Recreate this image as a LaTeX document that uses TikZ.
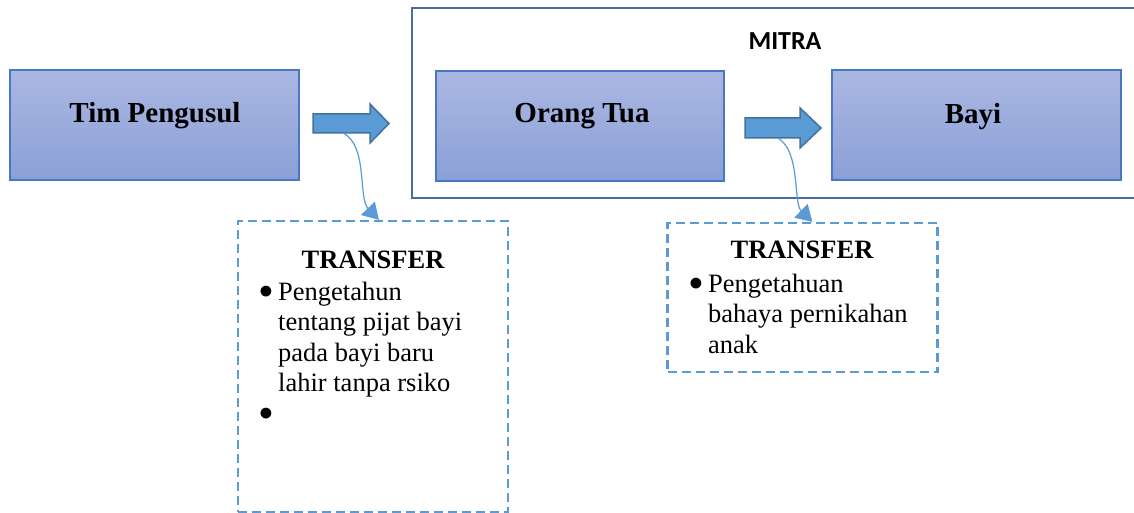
\documentclass[tikz,border=0pt]{standalone}
\usepackage{fontspec}
\setmainfont{Liberation Serif}
\newfontfamily\calibrifont{Carlito}
\usetikzlibrary{calc,arrows.meta}
\definecolor{boxtop}{HTML}{AAB7E1}
\definecolor{boxbot}{HTML}{8BA0D8}
\definecolor{boxline}{HTML}{4A76C6}
\definecolor{arrfill}{HTML}{5B9BD5}
\definecolor{arrline}{HTML}{41719C}
\definecolor{mitraline}{HTML}{4A6E99}
\definecolor{dashline}{HTML}{5B9BD5}
\newcommand{\bigbul}{\makebox[18pt][l]{\hspace{-1.5pt}\raisebox{-6.5pt}{\scalebox{1.7}{\textbullet}}}}
\begin{document}
\begin{tikzpicture}[x=1pt,y=-1pt,
  bluebox/.style={draw=boxline,line width=1.3pt,top color=boxtop,bottom color=boxbot,rectangle,inner sep=0pt},
  boxtext/.style={font=\fontsize{29}{32}\selectfont\bfseries,anchor=base,inner sep=0pt},
  blockarrow/.style={fill=arrfill,draw=arrline,line width=1.5pt,line join=miter},
  callout/.style={draw=dashline,line width=2.2pt,dash pattern=on 9pt off 5pt,rectangle,inner sep=0pt},
  calltitle/.style={font=\fontsize{26.5}{30.5}\selectfont\bfseries,anchor=base,inner sep=0pt},
  calltext/.style={font=\fontsize{26.5}{30.5}\selectfont,anchor=base west,inner sep=0pt,align=left},
  curvelink/.style={draw=dashline,line width=1.2pt,-{Triangle[length=16pt,width=19pt]}}
]
\useasboundingbox (0,0) rectangle (1134,513);
% MITRA frame (open to the right)
\draw[mitraline,line width=2.5pt] (1140,8) -- (412,8) -- (412,198) -- (1140,198);
\node[font=\calibrifont\fontsize{26}{28}\selectfont\bfseries,anchor=base,inner sep=0pt] (mitra) at (785,50) {MITRA};
% blue boxes
\path[bluebox] (10,70) rectangle (299,180);
\node[minimum width=289pt,minimum height=110pt,inner sep=0pt] (tim) at (154.5,125) {};
\node[boxtext] (timtext) at (155,123) {Tim Pengusul};
\path[bluebox] (436,71) rectangle (724,181);
\node[minimum width=288pt,minimum height=110pt,inner sep=0pt] (ortu) at (580,126) {};
\node[boxtext] (ortutext) at (582,123) {Orang Tua};
\path[bluebox] (832,70) rectangle (1121,180);
\node[minimum width=289pt,minimum height=110pt,inner sep=0pt] (bayi) at (976.5,125) {};
\node[boxtext] (bayitext) at (973,124) {Bayi};
% block arrows
\draw[blockarrow] (313,114) -- (370,114) -- (370,104) -- (389,123.5) -- (370,143) -- (370,133) -- (313,133) -- cycle;
\coordinate (a1) at (343,133);
\draw[blockarrow] (745,118) -- (800,118) -- (800,108) -- (821,128) -- (800,148) -- (800,138) -- (745,138) -- cycle;
\coordinate (a2) at (778,138);
% callout boxes
\node[callout,minimum width=270pt,minimum height=291pt] (c1) at (373,366.5) {};
\node[callout,minimum width=270pt,minimum height=149pt] (c2) at (802.5,297.5) {};
% callout texts
\node[calltitle] (t1) at (373,268) {TRANSFER};
\node[calltext] (l1) at (260,300) {\begin{tabular}[t]{@{}l@{}l@{}}\bigbul&Pengetahun\\[0pt]
 &tentang pijat bayi\\[0pt] &pada bayi baru\\[0pt] &lahir tanpa rsiko\\[0pt] \bigbul&\end{tabular}};
\node[calltitle] (t2) at (802,258) {TRANSFER};
\node[calltext] (l2) at (690,292) {\begin{tabular}[t]{@{}l@{}l@{}}\bigbul&Pengetahuan\\[0pt]
 &bahaya pernikahan\\[0pt] &anak\end{tabular}};
% connectors
\draw[curvelink] (a1) .. controls (368,145) and (358,198) .. ($(c1.north west)+(142,0)$);
\draw[curvelink] (a2) .. controls (801,152) and (793,203) .. ($(c2.north west)+(146,0)$);
\end{tikzpicture}
\end{document}
